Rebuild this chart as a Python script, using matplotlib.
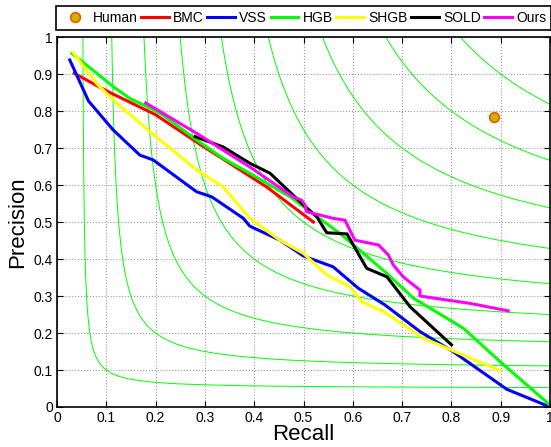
import numpy as np
import matplotlib.pyplot as plt

plt.rcParams['font.family'] = ['Liberation Sans', 'DejaVu Sans']

# iso-F levels
f_levels = [0.1, 0.2, 0.3, 0.4, 0.5, 0.6, 0.7, 0.8, 0.9]

# human performance
human_r = [0.887]
human_p = [0.785]

bmc_r = [0.035, 0.10, 0.20, 0.29, 0.35, 0.425, 0.52]
bmc_p = [0.902, 0.855, 0.79, 0.71, 0.659, 0.595, 0.50]

vss_r = [0.026, 0.064, 0.114, 0.168, 0.195, 0.283, 0.314, 0.378, 0.391, 0.452,
         0.50, 0.56, 0.611, 0.665, 0.736, 0.804, 0.912, 1.0]
vss_p = [0.938, 0.827, 0.749, 0.681, 0.668, 0.582, 0.568, 0.51, 0.489, 0.451,
         0.408, 0.379, 0.321, 0.276, 0.204, 0.149, 0.048, 0.0]

hgb_r = [0.030, 0.080, 0.114, 0.148, 0.189, 0.215, 0.283, 0.337, 0.391, 0.473,
         0.574, 0.669, 0.723, 0.824, 0.905, 1.0]
hgb_p = [0.956, 0.903, 0.866, 0.834, 0.808, 0.789, 0.722, 0.672, 0.632, 0.568,
         0.469, 0.361, 0.294, 0.213, 0.115, 0.005]

shgb_r = [0.033, 0.080, 0.114, 0.189, 0.283, 0.337, 0.391, 0.452, 0.50, 0.547,
          0.594, 0.618, 0.662, 0.743, 0.899]
shgb_p = [0.958, 0.875, 0.83, 0.744, 0.641, 0.595, 0.51, 0.451, 0.415, 0.357,
          0.325, 0.285, 0.258, 0.186, 0.098]

sold_r = [0.280, 0.337, 0.391, 0.432, 0.50, 0.527, 0.547, 0.588, 0.628, 0.669,
          0.716, 0.80]
sold_p = [0.731, 0.703, 0.659, 0.632, 0.546, 0.514, 0.471, 0.468, 0.375, 0.352,
          0.271, 0.168]

ours_r = [0.18, 0.283, 0.391, 0.479, 0.496, 0.503, 0.506, 0.56, 0.584, 0.604,
          0.652, 0.672, 0.682, 0.702, 0.736, 0.736, 0.838, 0.915]
ours_p = [0.822, 0.74, 0.649, 0.568, 0.559, 0.546, 0.528, 0.51, 0.505, 0.451,
          0.438, 0.411, 0.384, 0.352, 0.316, 0.30, 0.28, 0.26]

tick_labels = ['0', '0.1', '0.2', '0.3', '0.4', '0.5', '0.6', '0.7', '0.8', '0.9', '1']

fig = plt.figure(figsize=(5.51, 4.47), dpi=100)
ax = fig.add_axes([0.1034, 0.0895, 0.895, 0.8275])

# curvas iso-F de fondo
rr, pp = np.meshgrid(np.linspace(0.001, 1, 600), np.linspace(0.001, 1, 600))
ff = 2 * pp * rr / (pp + rr)
ax.contour(rr, pp, ff, levels=f_levels, colors='#00ff00', linewidths=0.7)

lw = 2.2
ax.plot(human_r, human_p, 'o', color='#c8b400', mec='#e85a00', mew=1.2, ms=7,
        label='Human', zorder=5)
ax.plot(bmc_r, bmc_p, color='#ff0000', lw=lw, label='BMC')
ax.plot(vss_r, vss_p, color='#0000ff', lw=lw, label='VSS')
ax.plot(hgb_r, hgb_p, color='#00ff00', lw=lw, label='HGB')
ax.plot(shgb_r, shgb_p, color='#ffff00', lw=lw, label='SHGB')
ax.plot(sold_r, sold_p, color='#000000', lw=lw, label='SOLD')
ax.plot(ours_r, ours_p, color='#ff00ff', lw=lw, label='Ours')

ax.set_xlim(0, 1)
ax.set_ylim(0, 1)
ticks = np.arange(0, 1.01, 0.1)
ax.set_xticks(ticks)
ax.set_yticks(ticks)
ax.set_xticklabels(tick_labels)
ax.set_yticklabels(tick_labels)
ax.tick_params(direction='in', top=True, right=True, labelsize=10, length=4, pad=3)
ax.grid(ls=':', color='#999999', lw=0.8)
for s in ax.spines.values():
    s.set_linewidth(1.2)

ax.set_xlabel('Recall', fontsize=16, labelpad=-1)
ax.set_ylabel('Precision', fontsize=16, labelpad=4)

leg = fig.legend(loc='upper right', bbox_to_anchor=(1.0, 0.987),
                 ncol=7, fontsize=10, frameon=True, fancybox=False,
                 edgecolor='black', framealpha=1, handlelength=2.0, handletextpad=0.3,
                 columnspacing=0.25, borderpad=0.35, borderaxespad=0)
leg.get_frame().set_linewidth(1.2)

fig.savefig('out.png', dpi=100)
